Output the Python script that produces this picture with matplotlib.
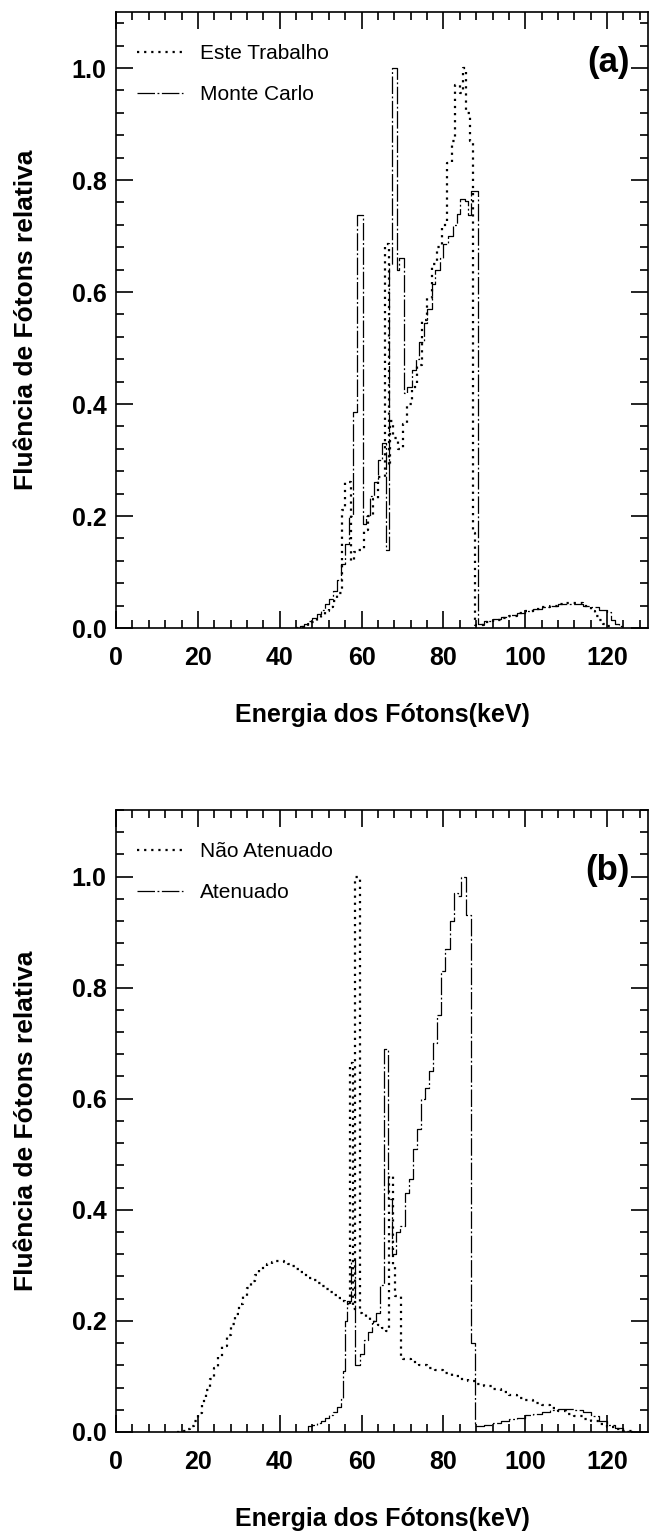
import matplotlib.pyplot as plt
from matplotlib.ticker import MultipleLocator

plt.rcParams['font.family'] = ['Liberation Sans', 'DejaVu Sans']

# ---- panel (a): Este Trabalho (dotted) vs Monte Carlo (dash-dot) ----
et_e = [44, 45, 46, 47, 48, 49, 50, 51, 52, 53, 54, 55.3, 56.0, 57.4, 58.2, 59.2,
        60.5, 61.5, 62.8, 64.0, 65.8, 66.6, 67.0, 67.8, 68.8, 70.0, 71.2, 72.4, 73.6,
        74.8, 76.0, 77.2, 78.4, 79.6, 80.8, 82.0, 82.8, 84.0, 84.8, 85.6, 86.4, 87.2,
        87.8, 90, 92, 94, 96, 98, 100, 102, 104, 106, 108, 110, 112, 114, 116, 117,
        118, 119, 120, 121]
et_v = [0.0, 0.002, 0.004, 0.007, 0.011, 0.016, 0.022, 0.03, 0.038, 0.048, 0.062,
        0.21, 0.26, 0.12, 0.135, 0.14, 0.175, 0.2, 0.23, 0.27, 0.685, 0.29, 0.37,
        0.34, 0.32, 0.365, 0.40, 0.43, 0.47, 0.55, 0.59, 0.65, 0.68, 0.72, 0.83,
        0.87, 0.97, 0.955, 1.0, 0.92, 0.87, 0.17, 0.005, 0.01, 0.014, 0.018, 0.022,
        0.026, 0.03, 0.034, 0.037, 0.04, 0.043, 0.045, 0.044, 0.04, 0.03, 0.022,
        0.015, 0.008, 0.003, 0.0]

mc_e = [44, 45, 46, 47, 48, 49, 50, 51, 52, 53, 54, 55, 56, 57, 57.8, 59.0, 60.3,
        61.0, 62.0, 63.0, 64.0, 65.0, 66.0, 66.8, 67.4, 68.6, 69.2, 70.3, 71.2,
        72.4, 73.2, 74.0, 75.2, 76.0, 77.2, 78.0, 79.2, 80.0, 81.2, 82.4, 83.2,
        84.0, 85.2, 86.0, 86.8, 88.4, 90, 92, 94, 96, 98, 100, 102, 104, 106, 108,
        110, 112, 114, 116, 118, 120, 121, 122, 123, 124]
mc_v = [0.0, 0.004, 0.008, 0.012, 0.018, 0.025, 0.032, 0.042, 0.052, 0.066, 0.085,
        0.115, 0.15, 0.2, 0.385, 0.737, 0.185, 0.2, 0.235, 0.26, 0.30, 0.33, 0.14,
        0.65, 1.0, 0.64, 0.66, 0.42, 0.43, 0.46, 0.48, 0.51, 0.545, 0.57, 0.615,
        0.64, 0.66, 0.685, 0.70, 0.72, 0.74, 0.767, 0.763, 0.737, 0.78, 0.008,
        0.012, 0.016, 0.02, 0.024, 0.027, 0.031, 0.034, 0.037, 0.04, 0.042, 0.043,
        0.042, 0.04, 0.037, 0.033, 0.028, 0.015, 0.008, 0.003, 0.0]

# ---- panel (b): Nao Atenuado (dotted) vs Atenuado (dash-dot) ----
na_e = [15, 16, 17, 18, 19, 20, 21, 22, 23, 24, 25, 26, 27, 28, 29, 30, 31, 32, 33,
        34, 35, 36, 37, 38, 39, 40, 41, 42, 43, 44, 45, 46, 47, 48, 49, 50, 51, 52,
        53, 54, 55, 56, 57, 57.2, 58.0, 58.4, 59.6, 60, 61, 62, 63, 64, 65, 66, 66.8,
        67.6, 68.2, 69.6, 70, 72, 74, 76, 78, 80, 82, 84, 86, 88, 90, 92, 94, 96, 98,
        100, 102, 104, 106, 108, 110, 112, 114, 116, 118, 120, 122, 124, 126]
na_v = [0.0, 0.002, 0.005, 0.01, 0.02, 0.035, 0.055, 0.075, 0.095, 0.115, 0.135,
        0.155, 0.175, 0.195, 0.213, 0.23, 0.245, 0.26, 0.272, 0.283, 0.292, 0.298,
        0.303, 0.306, 0.308, 0.308, 0.306, 0.302, 0.298, 0.293, 0.288, 0.283, 0.278,
        0.273, 0.268, 0.262, 0.257, 0.252, 0.247, 0.242, 0.236, 0.231, 0.227, 0.665,
        0.222, 1.0, 0.215, 0.212, 0.207, 0.202, 0.197, 0.192, 0.187, 0.182, 0.46,
        0.30, 0.245, 0.133, 0.131, 0.126, 0.121, 0.116, 0.111, 0.106, 0.101, 0.096,
        0.092, 0.087, 0.082, 0.077, 0.072, 0.067, 0.062, 0.057, 0.052, 0.048, 0.043,
        0.038, 0.033, 0.028, 0.024, 0.019, 0.014, 0.009, 0.005, 0.001, 0.0]

at_e = [46, 47, 48, 49, 50, 51, 52, 53, 54, 55, 55.5, 56, 56.5, 57.5, 58.5, 59.5,
        60.5, 61.5, 62.5, 63.5, 64.5, 65.5, 66.5, 67.5, 68.5, 69.5, 70.5, 71.5, 72.5,
        73.5, 74.5, 75.5, 76.5, 77.5, 78.5, 79.5, 80.5, 81.5, 82.5, 83.5, 84.3, 85.5,
        86.8, 87.7, 90, 92, 94, 96, 98, 100, 102, 104, 106, 108, 110, 112, 114, 116,
        118, 120, 122, 124, 126]
at_v = [0.0, 0.01, 0.012, 0.016, 0.02, 0.025, 0.03, 0.036, 0.045, 0.06, 0.11, 0.2,
        0.235, 0.31, 0.12, 0.14, 0.165, 0.18, 0.2, 0.215, 0.265, 0.69, 0.42, 0.32,
        0.36, 0.37, 0.43, 0.455, 0.51, 0.545, 0.6, 0.62, 0.65, 0.70, 0.75, 0.83,
        0.87, 0.92, 0.97, 0.965, 1.0, 0.93, 0.16, 0.01, 0.013, 0.016, 0.02, 0.023,
        0.026, 0.03, 0.033, 0.036, 0.039, 0.041, 0.042, 0.04, 0.036, 0.028, 0.02,
        0.013, 0.007, 0.002, 0.0]

DOT = (0, (1, 2.2))
DASHDOT = (0, (14, 2, 1.5, 2))


def drawPanel(ax, dotE, dotV, dashE, dashV, labels, tag, ytop):
    ax.step(dotE, dotV, where='post', color='black', lw=1.6, linestyle=DOT, label=labels[0])
    ax.step(dashE, dashV, where='post', color='black', lw=0.9, linestyle=DASHDOT, label=labels[1])
    ax.set_xlim(0, 130)
    ax.set_ylim(0, ytop)
    ax.xaxis.set_major_locator(MultipleLocator(20))
    ax.xaxis.set_minor_locator(MultipleLocator(4))
    ax.yaxis.set_major_locator(MultipleLocator(0.2))
    ax.yaxis.set_minor_locator(MultipleLocator(0.04))
    ax.yaxis.set_major_formatter(lambda v, p: '%.1f' % v)
    ax.tick_params(which='both', direction='in', top=True, right=True, width=1.2)
    ax.tick_params(which='major', length=12)
    ax.tick_params(which='minor', length=6)
    ax.tick_params(axis='x', which='major', pad=13, labelsize=18)
    ax.tick_params(axis='y', which='major', pad=7, labelsize=18)
    for t in ax.get_xticklabels() + ax.get_yticklabels():
        t.set_fontweight('bold')
    for s in ax.spines.values():
        s.set_linewidth(1.2)
    ax.set_xlabel('Energia dos Fótons(keV)', fontsize=18, fontweight='bold', labelpad=24)
    ax.set_ylabel('Fluência de Fótons relativa', fontsize=19, fontweight='bold', labelpad=24)
    ax.text(125.5, 1.01, tag, fontsize=25, fontweight='bold', ha='right', va='center')
    ax.legend(loc='upper left', bbox_to_anchor=(0.04, 0.948), frameon=False,
              fontsize=15, handlelength=2.2, handletextpad=0.8, borderpad=0,
              labelspacing=1.05, borderaxespad=0)


fig = plt.figure(figsize=(6.5, 15.31), dpi=100)
axA = fig.add_axes([0.1785, 0.5898, 0.8185, 0.4023])
axB = fig.add_axes([0.1785, 0.0647, 0.8185, 0.4063])

drawPanel(axA, et_e, et_v, mc_e, mc_v, ['Este Trabalho', 'Monte Carlo'], '(a)', 1.1)
drawPanel(axB, na_e, na_v, at_e, at_v, ['Não Atenuado', 'Atenuado'], '(b)', 1.12)

fig.savefig('out.png', dpi=100)
